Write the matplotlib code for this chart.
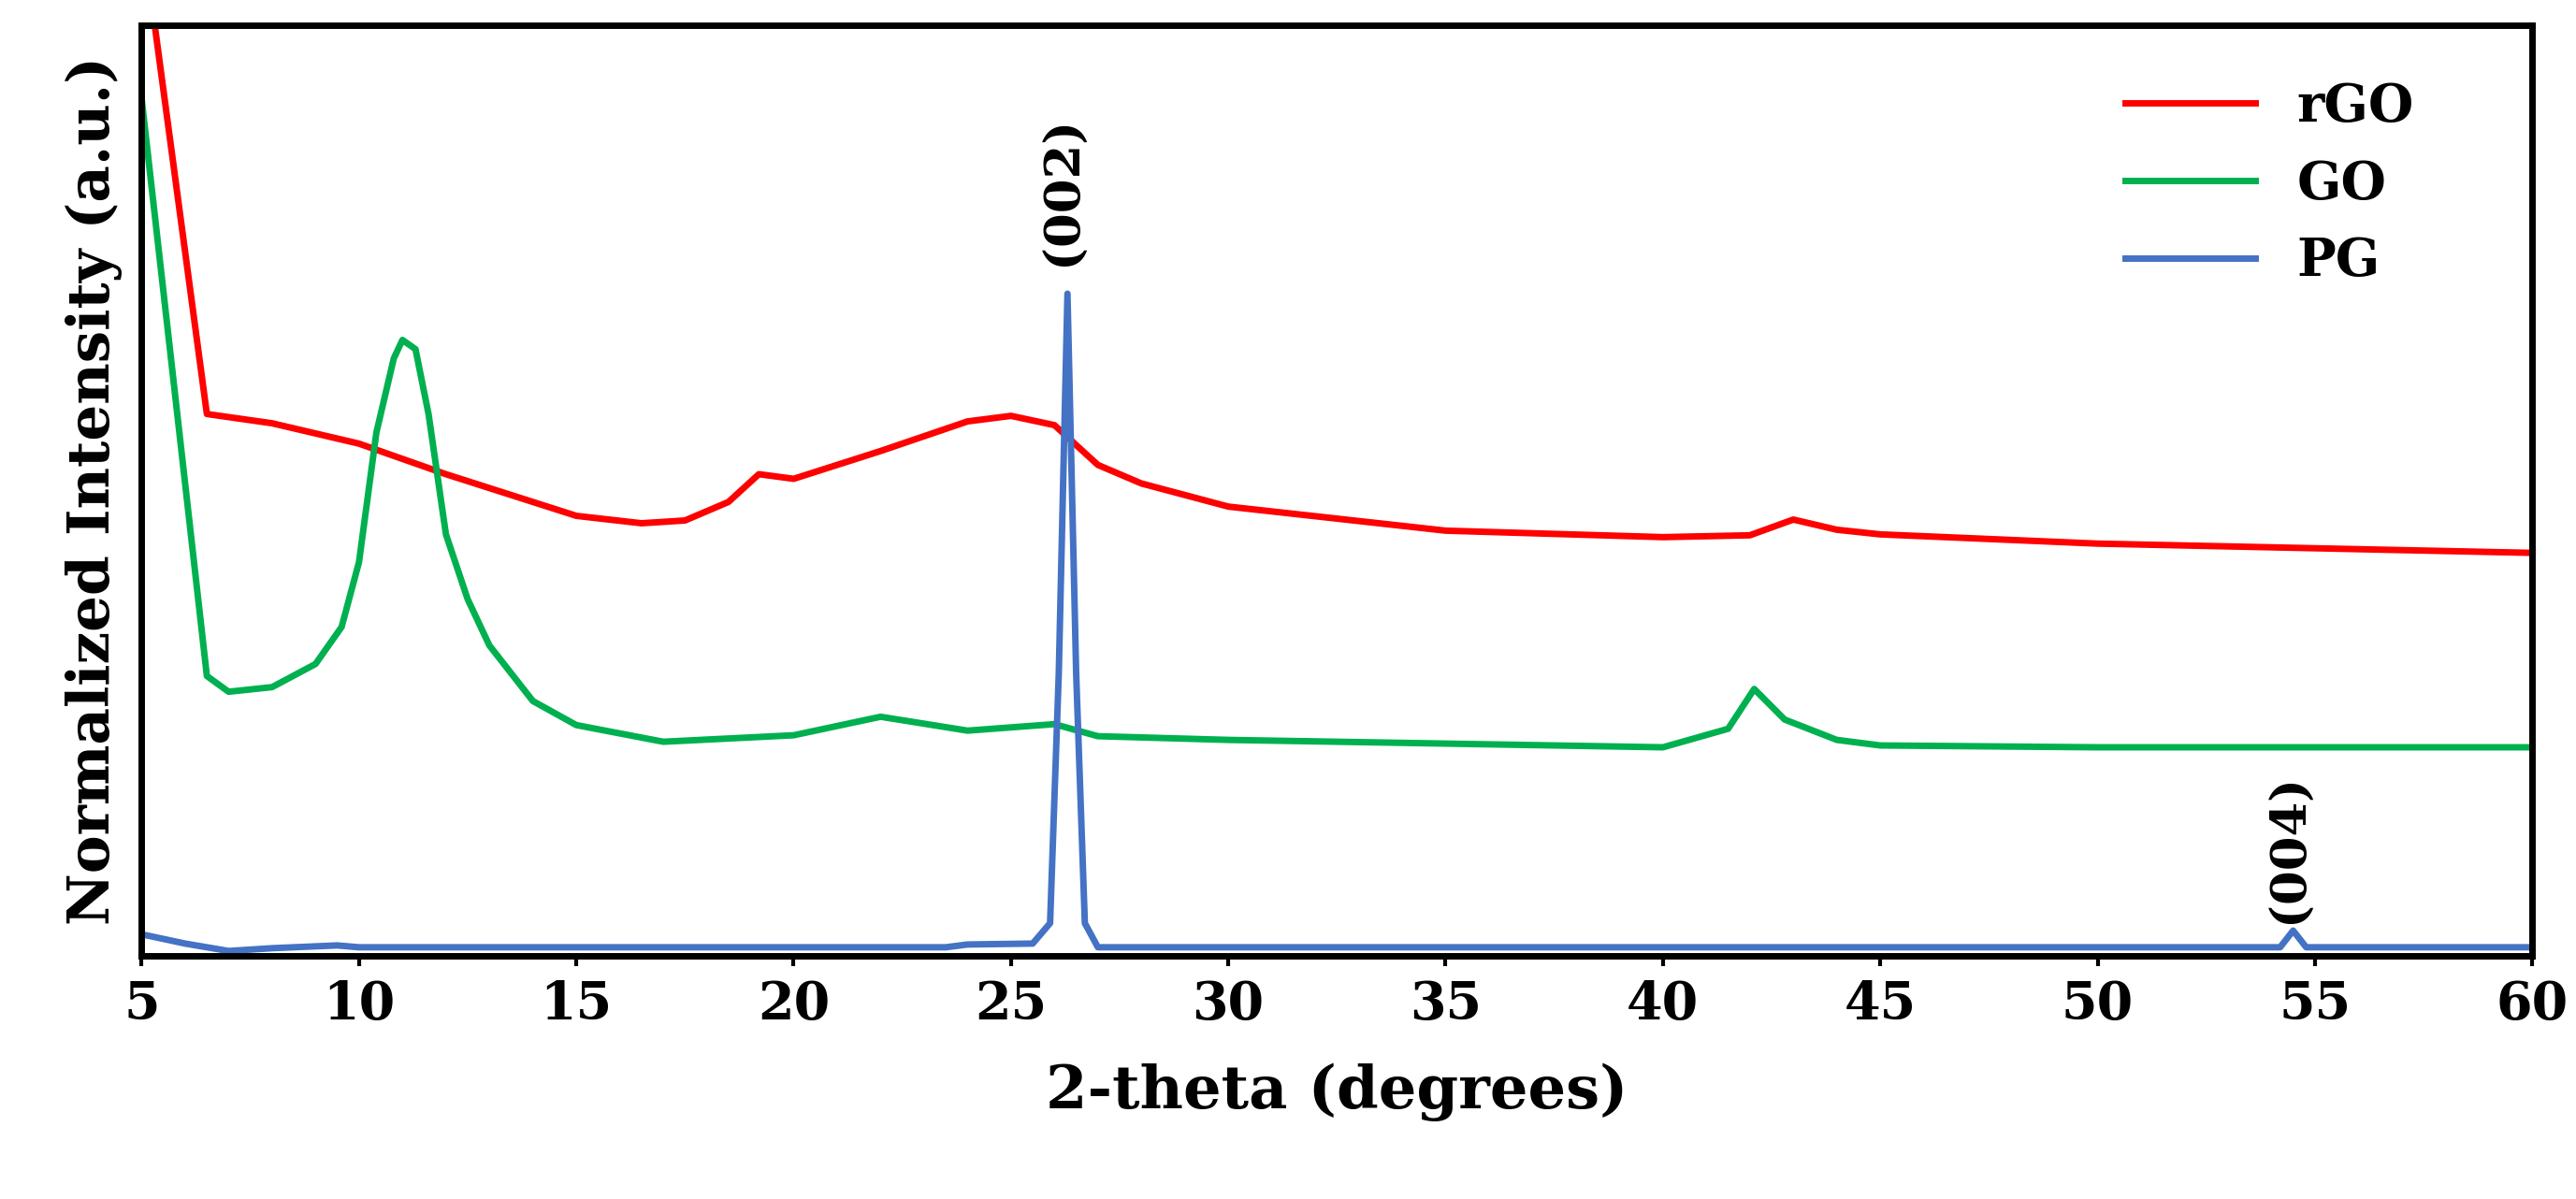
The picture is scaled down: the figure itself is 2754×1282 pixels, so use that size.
import matplotlib
matplotlib.use("Agg")
import matplotlib.pyplot as plt
import numpy as np

rgo_x = [5.3, 6.5, 8, 10, 12, 15, 16.5, 17.5, 18.5, 19.2, 20, 22, 24, 25, 26, 27, 28, 30, 35, 40, 42, 43, 44, 45, 50, 55, 60]
rgo_y = [1.0, 0.58, 0.57, 0.548, 0.515, 0.47, 0.462, 0.465, 0.485, 0.515, 0.51, 0.54, 0.572, 0.578, 0.568, 0.525, 0.505, 0.48, 0.454, 0.447, 0.449, 0.466, 0.455, 0.45, 0.44, 0.435, 0.43]
go_x = [5.0, 6.5, 7, 8, 9, 9.6, 10.0, 10.4, 10.8, 11.0, 11.3, 11.6, 12.0, 12.5, 13, 14, 15, 17, 20, 22, 24, 26, 27, 30, 35, 40, 41.5, 42.1, 42.8, 44, 45, 50, 60]
go_y = [0.92, 0.297, 0.28, 0.285, 0.31, 0.35, 0.42, 0.56, 0.64, 0.66, 0.65, 0.58, 0.45, 0.38, 0.33, 0.27, 0.244, 0.226, 0.233, 0.253, 0.238, 0.245, 0.232, 0.228, 0.224, 0.22, 0.24, 0.283, 0.25, 0.228, 0.222, 0.22, 0.22]
pg_x = [5.0, 6, 7, 8, 9.5, 10, 23.5, 24, 25.5, 25.9, 26.1, 26.3, 26.5, 26.7, 27, 54.2, 54.5, 54.8, 60]
pg_y = [0.018, 0.008, 0.0, 0.003, 0.006, 0.004, 0.004, 0.007, 0.008, 0.03, 0.3, 0.71, 0.3, 0.03, 0.004, 0.004, 0.022, 0.004, 0.004]

fig = plt.figure(figsize=(27.54, 12.82), dpi=100)
ax = fig.add_axes([0.055, 0.203, 0.928, 0.776])
ax.plot(rgo_x, rgo_y, color="#ff0000", lw=5, label="rGO")
ax.plot(go_x, go_y, color="#00b050", lw=5, label="GO")
ax.plot(pg_x, pg_y, color="#4472c4", lw=5, label="PG")
ax.set_xlim(5, 60)
ax.set_ylim(-0.005, 1.0)
ax.set_xticks(range(5, 61, 5))
ax.set_yticks([])
for s in ax.spines.values():
    s.set_linewidth(5)
fp = dict(family="DejaVu Serif", weight="bold")
ax.tick_params(axis="x", labelsize=40, width=3, length=8, pad=10)
for t in ax.get_xticklabels():
    t.set_fontfamily("DejaVu Serif"); t.set_fontweight("bold")
ax.set_xlabel("2-theta (degrees)", fontsize=46, labelpad=25, **fp)
ax.set_ylabel("Normalized Intensity (a.u.)", fontsize=44, labelpad=15, **fp)
ax.text(26.2, 0.74, "(002)", rotation=90, ha="center", va="bottom", fontsize=38, **fp)
ax.text(54.4, 0.03, "(004)", rotation=90, ha="center", va="bottom", fontsize=38, **fp)
leg = ax.legend(loc="upper right", frameon=False, prop=dict(family="DejaVu Serif", weight="bold", size=40),
                handlelength=2.5, bbox_to_anchor=(0.97, 0.99))
fig.savefig("out.png", dpi=100)
